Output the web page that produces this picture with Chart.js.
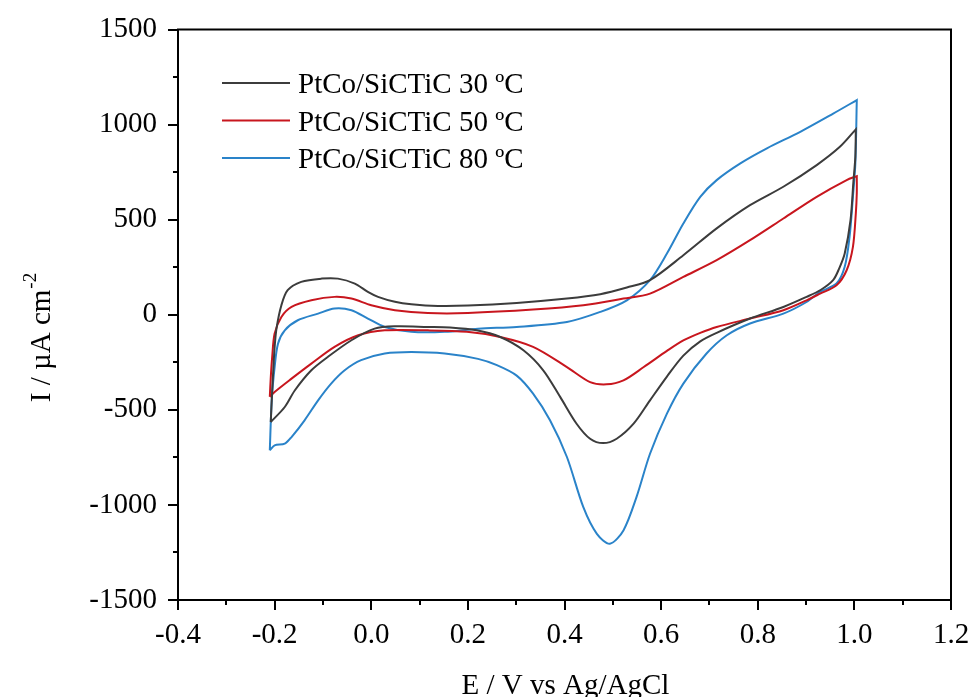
<!DOCTYPE html>
<html>
<head>
<meta charset="utf-8">
<script src="https://cdn.jsdelivr.net/npm/chart.js@4.4.1/dist/chart.umd.min.js"></script>
<style>
  html, body { margin: 0; padding: 0; background: #fff; }
  #wrap { width: 972px; height: 697px; }
</style>
</head>
<body>
<div id="wrap"><canvas id="cv" width="972" height="697"></canvas></div>
<script>
// --- dados (E em V, I em µA cm-2), cada curva é um ciclo fechado ---
const serieNomes = ['PtCo/SiCTiC 30 ºC', 'PtCo/SiCTiC 50 ºC', 'PtCo/SiCTiC 80 ºC'];
const serieCores = ['#3c3c3c', '#c8161e', '#2a83c9'];

// o vértice de inversão (1.0 V) aparece duas vezes para ficar em bico
const E30 = [-0.208, -0.206, -0.203, -0.200, -0.196, -0.186, -0.173, -0.145, -0.103, -0.069, -0.034, -0.007, 0.014, 0.049, 0.083, 0.138, 0.200, 0.301, 0.405, 0.474, 0.529, 0.577, 0.646, 0.715, 0.784, 0.853, 0.922, 0.970, 1.003, 1.003,
  1.002, 0.998, 0.992, 0.980, 0.968, 0.956, 0.930, 0.901, 0.853, 0.784, 0.715, 0.681, 0.646, 0.612, 0.577, 0.543, 0.508, 0.480, 0.453, 0.425, 0.391, 0.356, 0.315, 0.267, 0.218, 0.163, 0.117, 0.049, 0.007, -0.041, -0.090, -0.124, -0.158, -0.179, -0.208];
const I30 = [-564, -450, -300, -170, -70, 50, 129, 173, 190, 190, 164, 120, 94, 68, 55, 46, 48, 62, 85, 108, 143, 182, 313, 454, 576, 673, 787, 883, 975, 975,
  830, 700, 497, 322, 240, 182, 130, 94, 41, -20, -95, -140, -215, -325, -450, -573, -652, -675, -652, -573, -432, -292, -187, -117, -82, -67, -64, -61, -73, -134, -222, -292, -397, -485, -564];

const E50 = [-0.210, -0.208, -0.205, -0.200, -0.186, -0.165, -0.124, -0.076, -0.041, 0.000, 0.049, 0.117, 0.200, 0.335, 0.439, 0.522, 0.577, 0.646, 0.715, 0.784, 0.853, 0.922, 0.984, 1.005, 1.005,
  1.005, 1.003, 0.997, 0.984, 0.963, 0.929, 0.901, 0.853, 0.784, 0.715, 0.681, 0.646, 0.612, 0.564, 0.522, 0.487, 0.453, 0.405, 0.335, 0.267, 0.198, 0.117, 0.028, -0.027, -0.076, -0.124, -0.165, -0.200, -0.210];
const I50 = [-432, -330, -220, -99, -12, 41, 76, 94, 85, 50, 24, 9, 9, 27, 50, 85, 111, 199, 287, 392, 506, 620, 708, 729, 729,
  640, 533, 357, 234, 155, 111, 76, 24, -20, -64, -95, -135, -190, -275, -345, -366, -354, -275, -169, -117, -90, -82, -82, -108, -169, -257, -336, -406, -432];

const E80 = [-0.210, -0.206, -0.200, -0.193, -0.179, -0.152, -0.110, -0.076, -0.041, -0.007, 0.028, 0.083, 0.152, 0.221, 0.301, 0.405, 0.474, 0.529, 0.577, 0.612, 0.646, 0.681, 0.715, 0.764, 0.819, 0.888, 0.957, 1.005, 1.005,
  1.002, 0.997, 0.990, 0.980, 0.963, 0.929, 0.901, 0.853, 0.784, 0.736, 0.694, 0.646, 0.612, 0.577, 0.549, 0.522, 0.494, 0.467, 0.439, 0.405, 0.370, 0.335, 0.301, 0.260, 0.221, 0.152, 0.083, 0.028, -0.021, -0.055, -0.083, -0.110, -0.138, -0.165, -0.179, -0.200, -0.210];
const I80 = [-713, -450, -275, -152, -82, -29, 6, 33, 24, -20, -64, -90, -90, -73, -64, -38, 15, 76, 182, 322, 480, 620, 708, 796, 875, 962, 1059, 1129, 1129,
  796, 620, 409, 252, 164, 120, 67, 6, -46, -108, -204, -362, -520, -731, -959, -1134, -1204, -1152, -1012, -748, -555, -415, -320, -265, -232, -204, -196, -204, -239, -292, -362, -450, -555, -643, -678, -687, -713];

const xTicks = [-0.4, -0.2, 0.0, 0.2, 0.4, 0.6, 0.8, 1.0, 1.2];
const yTicks = [-1500, -1000, -500, 0, 500, 1000, 1500];

const fonte = "'Liberation Serif', 'Times New Roman', serif";
Chart.defaults.font.family = fonte;
Chart.defaults.color = '#000';

function pontos(xs, ys) {
  return xs.map((x, i) => ({ x: x, y: ys[i] }));
}

const conjuntos = [[E30, I30], [E50, I50], [E80, I80]].map((par, i) => ({
  label: serieNomes[i],
  data: pontos(par[0], par[1]),
  borderColor: serieCores[i],
  backgroundColor: serieCores[i],
  borderWidth: 2,
  pointRadius: 0,
  showLine: true,
  tension: 0.3,
  fill: false
}));

// moldura, ticks maiores/menores, títulos dos eixos e legenda
const moldura = {
  id: 'moldura',
  afterDraw(chart) {
    const ctx = chart.ctx;
    const a = chart.chartArea;
    const sx = chart.scales.x, sy = chart.scales.y;
    ctx.save();
    ctx.strokeStyle = '#000';
    ctx.lineWidth = 2;
    ctx.strokeRect(a.left, a.top, a.right - a.left, a.bottom - a.top);

    for (let k = 0; k <= 16; k++) {
      const v = -0.4 + k * 0.1;
      const px = Math.round(sx.getPixelForValue(v));
      const len = k % 2 === 0 ? 10 : 5;
      ctx.beginPath();
      ctx.moveTo(px, a.bottom);
      ctx.lineTo(px, a.bottom + len);
      ctx.stroke();
    }
    for (let k = 0; k <= 12; k++) {
      const v = -1500 + k * 250;
      const py = Math.round(sy.getPixelForValue(v));
      const len = k % 2 === 0 ? 10 : 5;
      ctx.beginPath();
      ctx.moveTo(a.left, py);
      ctx.lineTo(a.left - len, py);
      ctx.stroke();
    }

    // título eixo x
    ctx.fillStyle = '#000';
    ctx.font = '29px ' + fonte;
    ctx.textAlign = 'center';
    ctx.textBaseline = 'alphabetic';
    ctx.fillText('E / V vs Ag/AgCl', (a.left + a.right) / 2 + 1, 694);

    // título eixo y (com expoente)
    ctx.save();
    ctx.translate(50, 338);
    ctx.rotate(-Math.PI / 2);
    const base = 'I / µA cm';
    ctx.font = '29px ' + fonte;
    const wBase = ctx.measureText(base).width;
    ctx.font = '19px ' + fonte;
    const wSup = ctx.measureText('-2').width;
    const x0 = -(wBase + wSup) / 2;
    ctx.textAlign = 'left';
    ctx.font = '29px ' + fonte;
    ctx.fillText(base, x0, 0);
    ctx.font = '19px ' + fonte;
    ctx.fillText('-2', x0 + wBase + 1, -14);
    ctx.restore();

    // legenda
    ctx.font = '29px ' + fonte;
    ctx.textAlign = 'left';
    serieNomes.forEach((nome, i) => {
      const yl = 83 + i * 37.5;
      ctx.strokeStyle = serieCores[i];
      ctx.lineWidth = 2;
      ctx.beginPath();
      ctx.moveTo(222, yl);
      ctx.lineTo(290, yl);
      ctx.stroke();
      ctx.fillStyle = '#000';
      ctx.fillText(nome, 298, yl + 10);
    });
    ctx.restore();
  }
};

new Chart(document.getElementById('cv'), {
  type: 'scatter',
  data: { datasets: conjuntos },
  options: {
    responsive: false,
    animation: false,
    layout: { padding: { top: 29.5, right: 21, left: 0, bottom: 0 } },
    plugins: { legend: { display: false }, tooltip: { enabled: false } },
    scales: {
      x: {
        type: 'linear',
        min: -0.4, max: 1.2,
        afterBuildTicks: s => { s.ticks = xTicks.map(v => ({ value: v })); },
        afterFit: s => { s.height = 97; s.paddingLeft = 0; s.paddingRight = 0; },
        grid: { display: false },
        border: { display: false },
        ticks: { font: { size: 29 }, padding: 10, maxRotation: 0, callback: v => v.toFixed(1) }
      },
      y: {
        type: 'linear',
        min: -1500, max: 1500,
        afterBuildTicks: s => { s.ticks = yTicks.map(v => ({ value: v })); },
        afterFit: s => { s.width = 178; s.paddingTop = 0; s.paddingBottom = 0; },
        grid: { display: false },
        border: { display: false },
        ticks: { font: { size: 29 }, padding: 13, callback: v => String(v) }
      }
    }
  },
  plugins: [moldura]
});
</script>
</body>
</html>
